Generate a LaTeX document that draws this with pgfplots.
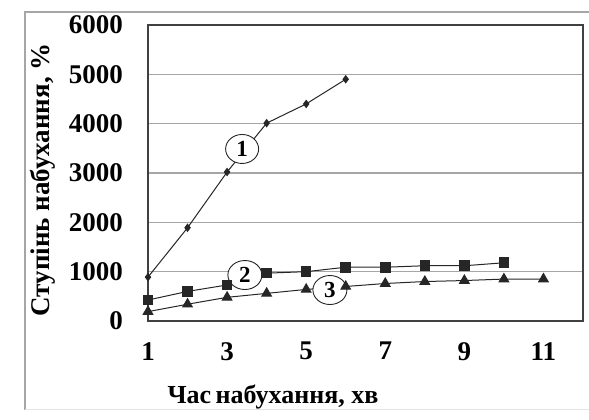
\documentclass[border=0pt]{standalone}
\usepackage{fontspec}
\setmainfont{Liberation Serif}
\usepackage{pgfplots}
\pgfplotsset{compat=1.18}
\usetikzlibrary{shapes.geometric}
\begin{document}
\begin{tikzpicture}[x=1pt,y=1pt]
\path[use as bounding box] (0,0) rectangle (589,420);
\draw[gray!70, line width=1.2pt] (25,10) -- (25,408) -- (589,408);
\draw[gray!20, line width=1pt] (25,10) -- (589,10);
\begin{axis}[at={(148pt,99pt)}, anchor=south west, scale only axis,
  width=435pt, height=296pt,
  xmin=1, xmax=12, ymin=0, ymax=6000,
  xtick={1,3,5,7,9,11}, ytick={0,1000,...,6000},
  ymajorgrids, grid style={gray!70, line width=1.2pt},
  major tick length=0pt,
  axis line style={black!75, line width=1.2pt},
  tick label style={font=\fontsize{27}{29}\selectfont\bfseries},
  /pgf/number format/assume math mode=true,
  /pgf/number format/set thousands separator={},
  yticklabel style={inner sep=0pt, xshift=-25pt},
  xticklabel style={inner sep=0pt, yshift=-21pt},
  clip=false,
]
\addplot[black!85, line width=1pt, mark=diamond*, mark size=3.5pt, mark options={solid}]
  coordinates {(1,890)(2,1890)(3,3020)(4,4010)(5,4400)(6,4900)};
\addplot[black!85, line width=1pt, mark=square*, mark size=4.8pt]
  coordinates {(1,425)(2,600)(3,730)(4,970)(5,1000)(6,1090)(7,1090)(8,1120)(9,1120)(10,1180)};
\addplot[black!85, line width=1pt, mark=triangle*, mark size=5.5pt]
  coordinates {(1,190)(2,340)(3,480)(4,560)(5,640)(6,700)(7,760)(8,800)(9,820)(10,850)(11,850)};
\node[draw=black!85, line width=0.9pt, ellipse, fill=white, minimum width=33pt, minimum height=29pt, inner sep=0pt,
  font=\fontsize{23}{24}\selectfont\bfseries] at (axis cs:3.38,3487) {1};
\node[draw=black!85, line width=0.9pt, ellipse, fill=white, minimum width=34pt, minimum height=29pt, inner sep=0pt,
  font=\fontsize{23}{24}\selectfont\bfseries] at (axis cs:3.45,932) {2};
\node[draw=black!85, line width=0.9pt, ellipse, fill=white, minimum width=34pt, minimum height=29pt, inner sep=0pt,
  font=\fontsize{23}{24}\selectfont\bfseries] at (axis cs:5.60,628) {3};
\end{axis}
\node[anchor=base, inner sep=0pt, font=\fontsize{26}{28}\selectfont\bfseries] at (273,16) {Час\hspace{-2pt} набухання, хв};
\node[rotate=90, inner sep=0pt, font=\fontsize{27}{29}\selectfont\bfseries] at (43,240) {Ступінь набухання, \%};
\end{tikzpicture}
\end{document}
